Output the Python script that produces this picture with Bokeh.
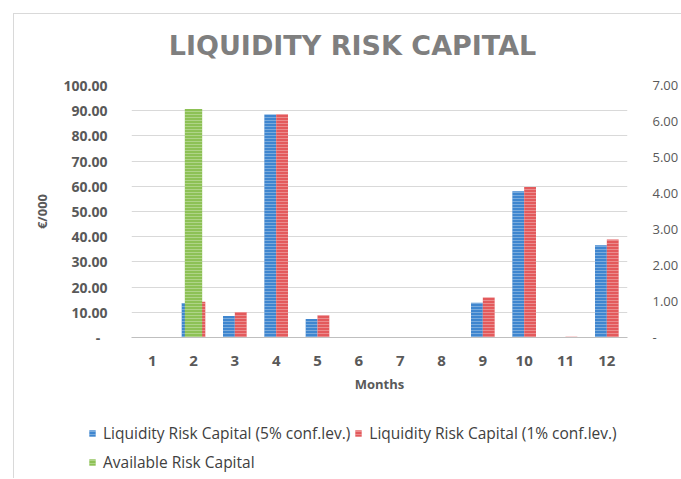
from bokeh.plotting import figure
from bokeh.layouts import column
from bokeh.models import (ColumnDataSource, Range1d, LinearAxis, FixedTicker,
                          NumeralTickFormatter, Legend, LegendItem, Label)
from bokeh.transform import dodge
from bokeh.embed import file_html
from bokeh.resources import INLINE

# ---- data ----
months = [1, 2, 3, 4, 5, 6, 7, 8, 9, 10, 11, 12]
lrc_5 = [0.0, 13.7, 8.5, 88.5, 7.3, 0.0, 0.0, 0.0, 13.8, 58.0, 0.0, 36.6]
lrc_1 = [0.0, 14.2, 10.1, 88.6, 8.8, 0.0, 0.0, 0.0, 15.9, 59.7, 0.3, 38.9]
available = [0.0, 6.35, 0.0, 0.0, 0.0, 0.0, 0.0, 0.0, 0.0, 0.0, 0.0, 0.0]
left_ticks = [0, 10, 20, 30, 40, 50, 60, 70, 80, 90, 100]
right_ticks = [0, 1, 2, 3, 4, 5, 6, 7]
title_text = "LIQUIDITY RISK CAPITAL"
series_names = ["Liquidity Risk Capital (5% conf.lev.)",
                "Liquidity Risk Capital (1% conf.lev.)",
                "Available Risk Capital"]

src = ColumnDataSource(dict(month=months, lrc5=lrc_5, lrc1=lrc_1, avail=available))

FONT = "Open Sans"
TXT = "#595959"
BLUE = "#3f86cf"
RED = "#e35a5c"
GREEN = "#8dc155"
COLORS = [BLUE, RED, GREEN]
COLS = ["lrc5", "lrc1", "avail"]

hatch = dict(hatch_pattern="horizontal_line", hatch_color="white",
             hatch_alpha=0.3, hatch_scale=3, hatch_weight=1)

# ---- title strip ----
t = figure(width=667, height=56, output_backend="svg", toolbar_location=None,
           x_range=Range1d(0, 1), y_range=Range1d(0, 1),
           min_border=0, outline_line_color=None)
t.frame_align = False
t.axis.visible = False
t.grid.visible = False
t.add_layout(Label(x=338, y=25, x_units="screen", y_units="screen", text=title_text,
                   text_font="DejaVu Sans", text_font_size="27px",
                   text_font_style="bold", text_color="#7f7f7f",
                   text_align="center", text_baseline="middle"))

# ---- main chart ----
p = figure(width=667, height=344, output_backend="svg", toolbar_location=None,
           x_range=Range1d(0.5, 12.5), y_range=Range1d(0, 100),
           min_border_left=117, min_border_right=47, min_border_top=15,
           min_border_bottom=77, outline_line_color=None)
p.frame_align = False
p.extra_y_ranges = {"right": Range1d(0, 7)}

p.vbar(x=dodge("month", -0.143), top="lrc5", width=0.286, source=src,
       fill_color=BLUE, line_color=None, **hatch)
p.vbar(x=dodge("month", 0.143), top="lrc1", width=0.286, source=src,
       fill_color=RED, line_color=None, **hatch)
p.vbar(x="month", top="avail", width=0.42, source=src, y_range_name="right",
       fill_color=GREEN, line_color=None, **hatch)

# x axis
xa = p.xaxis[0]
xa.ticker = FixedTicker(ticks=months)
xa.major_label_overrides = {m: str(m) for m in months}
xa.axis_line_color = "#bfbfbf"
xa.major_tick_line_color = None
xa.minor_tick_line_color = None
xa.major_label_standoff = 12
xa.major_label_text_font = FONT
xa.major_label_text_font_size = "15px"
xa.major_label_text_font_style = "bold"
xa.major_label_text_color = TXT
xa.axis_label = "Months"
xa.axis_label_text_font = FONT
xa.axis_label_text_font_size = "13px"
xa.axis_label_text_font_style = "bold"
xa.axis_label_text_color = TXT
xa.axis_label_standoff = 6

# left axis
ya = p.yaxis[0]
ya.ticker = FixedTicker(ticks=left_ticks)
ya.formatter = NumeralTickFormatter(format="0.00")
ya.major_label_overrides = {0: "-\u00a0\u00a0"}
ya.axis_line_color = None
ya.major_tick_line_color = None
ya.minor_tick_line_color = None
ya.major_label_standoff = 18
ya.major_label_text_font = FONT
ya.major_label_text_font_size = "14px"
ya.major_label_text_font_style = "bold"
ya.major_label_text_color = TXT
ya.axis_label = "€/000"
ya.axis_label_text_font = FONT
ya.axis_label_text_font_size = "13px"
ya.axis_label_text_font_style = "bold"
ya.axis_label_text_color = TXT
ya.axis_label_standoff = 9

# right axis
ra = LinearAxis(y_range_name="right", ticker=FixedTicker(ticks=right_ticks),
                formatter=NumeralTickFormatter(format="0.00"))
ra.major_label_overrides = {0: "-"}
ra.axis_line_color = None
ra.major_tick_line_color = None
ra.minor_tick_line_color = None
ra.major_label_standoff = 19
ra.major_label_text_font = FONT
ra.major_label_text_font_size = "13px"
ra.major_label_text_color = TXT
p.add_layout(ra, "right")

p.xgrid.grid_line_color = None
p.ygrid.grid_line_color = "#d9d9d9"
p.ygrid.grid_line_width = 1

# ---- legend strip below the chart (swatch renderers lie outside its view) ----
q = figure(width=667, height=64, output_backend="svg", toolbar_location=None,
           x_range=Range1d(-100, -99), y_range=Range1d(0, 1),
           min_border=0, outline_line_color=None)
q.frame_align = False
q.axis.visible = False
q.grid.visible = False
swatches = [q.vbar(x="month", top=col, width=0.1, source=src, fill_color=c,
                   line_color=None, **hatch)
            for c, col in zip(COLORS, COLS)]
legend = Legend(items=[LegendItem(label=n, renderers=[r])
                       for n, r in zip(series_names, swatches)],
                location=(74, 4), orientation="horizontal", ncols=2,
                border_line_color=None, background_fill_alpha=0,
                glyph_width=8, glyph_height=8, label_standoff=7, spacing=4,
                label_height=25, padding=0, margin=0,
                label_text_font=FONT, label_text_font_size="15.5px",
                label_text_color="#404040")
q.add_layout(legend, "center")

layout = column(t, p, q, spacing=0)
layout.styles = {"margin-left": "13px", "margin-top": "13px",
                 "border-left": "1px solid #d9d9d9", "border-top": "1px solid #d9d9d9"}

open("out.html", "w").write(file_html(layout, INLINE))
